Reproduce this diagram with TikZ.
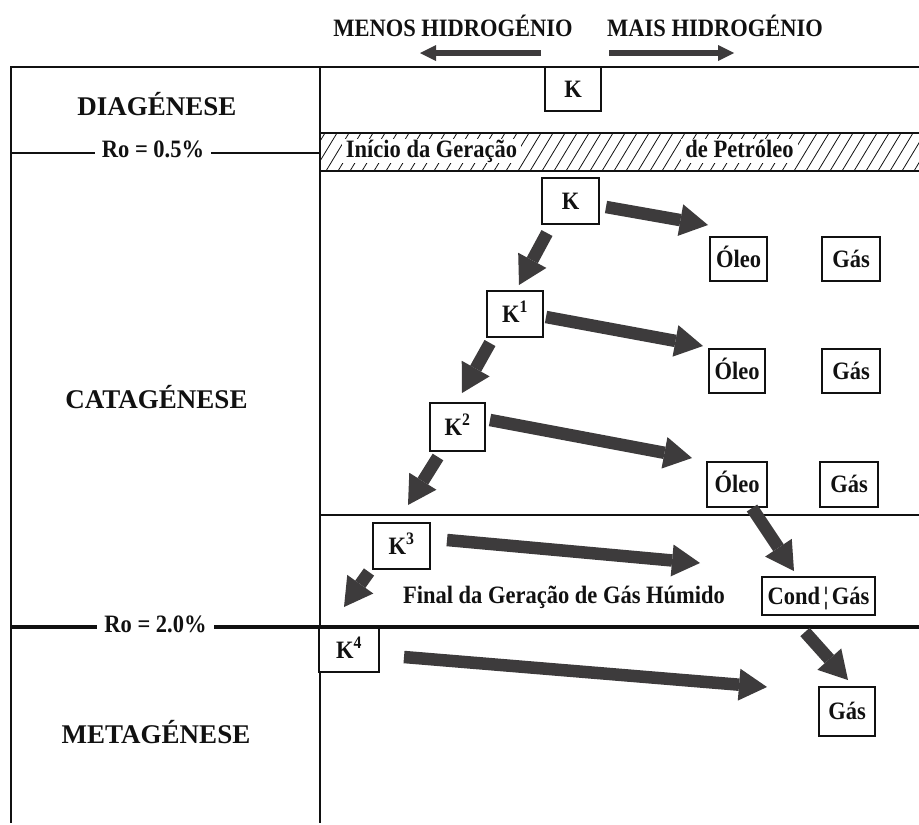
\documentclass[tikz,border=0pt]{standalone}
\usepackage{fontspec}
\setmainfont{Liberation Serif}
\newfontfamily\condfont[FakeStretch=0.9]{Liberation Serif}
\usetikzlibrary{arrows.meta}
\definecolor{ink}{HTML}{111111}
\definecolor{arrowgray}{HTML}{3D3B3C}
\begin{document}
\begin{tikzpicture}[x=1pt,y=-1pt,
  txt/.style={font=\condfont\bfseries\fontsize{25}{29}\selectfont, inner sep=0pt, text=ink},
  bigtxt/.style={font=\bfseries\fontsize{27}{32}\selectfont, inner sep=0pt, anchor=base, text=ink},
  bandtxt/.style={txt, anchor=base, fill=white, text height=16pt, text depth=4pt, inner ysep=2pt, inner xsep=4pt},
  rotxt/.style={txt, anchor=base, fill=white, inner xsep=7pt, inner ysep=1pt},
  box/.style={draw=ink, line width=2pt, fill=white, inner sep=0pt, text height=16pt, text depth=0pt,
    font=\condfont\bfseries\fontsize{25}{29}\selectfont, text=ink},
  frame/.style={draw=ink, line width=2.5pt},
  bigarrow/.style={draw=arrowgray, line width=12.5pt, -{Triangle[length=28pt,width=32pt,line width=0pt 0 0]}},
  headarrow/.style={draw=arrowgray, line width=6pt, -{Triangle[length=16pt,width=16pt,line width=0pt 0 0]}}
]
\useasboundingbox (0,0) rectangle (919,825);

% frame lines
\draw[frame] (10,67) -- (919,67);
\draw[frame] (11,67) -- (11,823);
\draw[frame] (320,67) -- (320,823);
\draw[frame] (11,153) -- (320,153);
\draw[draw=ink, line width=2.2pt] (320,515) -- (919,515);
\draw[draw=ink, line width=3.6pt] (10,627) -- (919,627);

% hatched band
\begin{scope}
  \clip (320,133) rectangle (919,171);
  \foreach \x in {290,302,...,930} {
    \draw[ink, line width=0.8pt] (\x,171) -- ({\x+23},133);
  }
\end{scope}
\draw[frame] (320,133) -- (919,133);
\draw[frame] (320,171) -- (919,171);

% header
\node[txt, anchor=base] (hless) at (453,36) {MENOS HIDROGÉNIO};
\node[txt, anchor=base] (hmore) at (715,36) {MAIS HIDROGÉNIO};
\coordinate (hl1) at (541,53);
\coordinate (hl2) at (420,53);
\coordinate (hr1) at (609,53);
\coordinate (hr2) at (734,53);
\draw[headarrow] (hl1) -- (hl2);
\draw[headarrow] (hr1) -- (hr2);

% stage labels
\node[bigtxt] (dia) at (157,115) {DIAGÉNESE};
\node[bigtxt] (cata) at (156.5,408) {CATAGÉNESE};
\node[bigtxt] (meta) at (156,743) {METAGÉNESE};
\node[rotxt] (ro05) at (153,157) {Ro = 0.5\%};
\node[rotxt] (ro20) at (155.5,632) {Ro = 2.0\%};

% band texts
\node[bandtxt] (ini) at (431.5,157) {Início da Geração};
\node[bandtxt] (pet) at (739.5,157) {de Petróleo};
\node[txt, anchor=base] (final) at (564,603) {Final da Geração de Gás Húmido};

% boxes
\node[box, minimum width=56pt, minimum height=44pt] (Ktop) at (573,89) {K};
\node[box, minimum width=57pt, minimum height=46pt] (K0) at (570.5,201) {K};
\node[box, minimum width=57pt, minimum height=44pt] (O1) at (738.5,259) {Óleo};
\node[box, minimum width=58pt, minimum height=44pt] (G1) at (851,259) {Gás};
\node[box, minimum width=56pt, minimum height=46pt] (K1) at (515,314) {K\textsuperscript{1}};
\node[box, minimum width=56pt, minimum height=44pt] (O2) at (737,371) {Óleo};
\node[box, minimum width=58pt, minimum height=44pt] (G2) at (851,371) {Gás};
\node[box, minimum width=55pt, minimum height=48pt] (K2) at (457.5,427) {K\textsuperscript{2}};
\node[box, minimum width=60pt, minimum height=45pt] (O3) at (737,484.5) {Óleo};
\node[box, minimum width=58pt, minimum height=45pt] (G3) at (849,484.5) {Gás};
\node[box, minimum width=57pt, minimum height=46pt] (K3) at (401.5,546) {K\textsuperscript{3}};
\node[box, minimum width=113pt, minimum height=38pt] (CG) at (818.5,596) {Cond\hspace{3.5pt}¦\hspace{3.5pt}Gás};
\node[box, minimum width=60pt, minimum height=44pt] (K4) at (349,650) {K\textsuperscript{4}};
\node[box, minimum width=56pt, minimum height=49pt] (GB) at (847,711.5) {Gás};

% arrow end points
\coordinate (a1s) at (606,207);  \coordinate (a1e) at (708,225);
\coordinate (a2s) at (547,233);  \coordinate (a2e) at (519,285);
\coordinate (a3s) at (546,317);  \coordinate (a3e) at (703,346);
\coordinate (a4s) at (490,343);  \coordinate (a4e) at (462,393);
\coordinate (a5s) at (490,420);  \coordinate (a5e) at (692,458);
\coordinate (a6s) at (438,457);  \coordinate (a6e) at (408,505);
\coordinate (a7s) at (752,508);  \coordinate (a7e) at (794,571);
\coordinate (a8s) at (447,540);  \coordinate (a8e) at (700,563);
\coordinate (a9s) at (369,572);  \coordinate (a9e) at (344,607);
\coordinate (a10s) at (805,632); \coordinate (a10e) at (848,680);
\coordinate (a11s) at (404,657); \coordinate (a11e) at (767,687);

\draw[bigarrow] (a1s) -- (a1e);
\draw[bigarrow] (a2s) -- (a2e);
\draw[bigarrow] (a3s) -- (a3e);
\draw[bigarrow] (a4s) -- (a4e);
\draw[bigarrow] (a5s) -- (a5e);
\draw[bigarrow] (a6s) -- (a6e);
\draw[bigarrow] (a7s) -- (a7e);
\draw[bigarrow] (a8s) -- (a8e);
\draw[bigarrow] (a9s) -- (a9e);
\draw[bigarrow] (a10s) -- (a10e);
\draw[bigarrow] (a11s) -- (a11e);
\end{tikzpicture}
\end{document}
